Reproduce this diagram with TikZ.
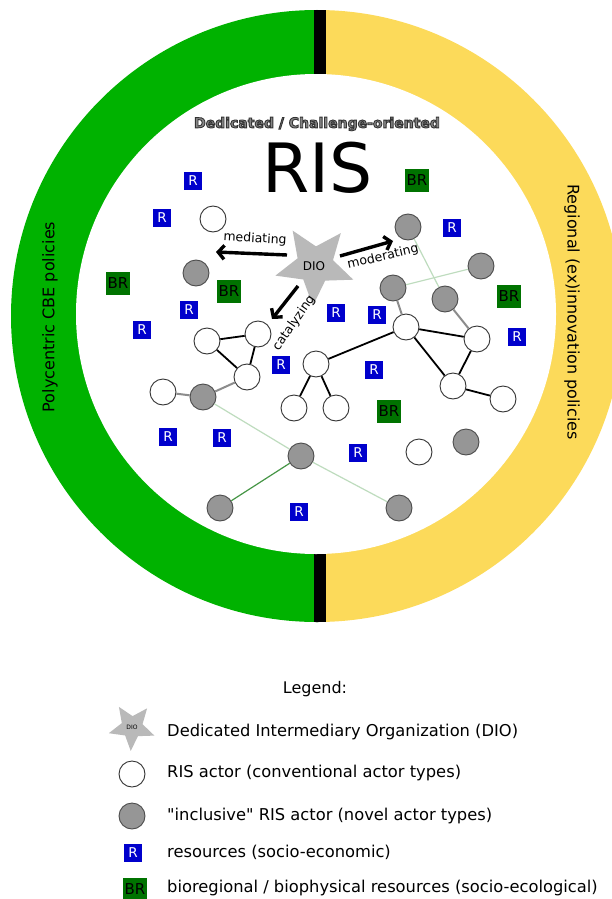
\documentclass[tikz,border=0pt]{standalone}
\usepackage{fontspec}
\setmainfont{DejaVu Sans}
\usetikzlibrary{shapes.geometric,arrows.meta}
\newcommand{\straightquote}{\XeTeXglyph\XeTeXcharglyph"22\relax}
\definecolor{ringgreen}{RGB}{0,178,0}
\definecolor{ringyellow}{RGB}{252,218,90}
\definecolor{rblue}{RGB}{0,0,204}
\definecolor{brgreen}{RGB}{0,115,0}
\definecolor{nodegray}{RGB}{150,150,150}
\definecolor{stargray}{RGB}{185,185,185}
\definecolor{lightgreen}{RGB}{190,220,190}
\definecolor{midgreen}{RGB}{70,150,70}
\definecolor{edgegray}{RGB}{140,140,140}
\definecolor{titlegray}{RGB}{135,135,135}
\begin{document}
\begin{tikzpicture}[x=1pt,y=-1pt,
  wnode/.style={circle,draw=black!80,fill=white,line width=0.9pt,minimum size=26pt,inner sep=0pt},
  gnode/.style={circle,draw=black!70,fill=nodegray,line width=0.9pt,minimum size=26pt,inner sep=0pt},
  rbox/.style={fill=rblue,text=white,minimum size=18pt,inner sep=0pt,font=\fontsize{13.5}{13.5}\selectfont},
  brbox/.style={fill=brgreen,text=black,minimum width=24pt,minimum height=23pt,inner sep=0pt,font=\fontsize{15}{15}\selectfont},
  tie/.style={line width=1.8pt,black},
  graytie/.style={line width=2pt,edgegray},
  weaktie/.style={line width=1.2pt,lightgreen},
  greentie/.style={line width=1.2pt,midgreen},
  role/.style={line width=3.4pt,-{Straight Barb[length=6pt,width=14pt]}},
  rolelabel/.style={font=\fontsize{12.5}{12.5}\selectfont,inner sep=0pt},
  ringlabel/.style={font=\fontsize{16}{16}\selectfont,inner sep=0pt},
  legendtext/.style={anchor=west,font=\fontsize{16.3}{19}\selectfont,inner sep=0pt},
  dio/.style={star,star points=5,star point ratio=2.2,fill=stargray,inner sep=0pt,shape border rotate=177}]
\useasboundingbox (0,0) rectangle (612,899);
\clip (0,0) rectangle (612,899);
% ring
\begin{scope}
  \clip (0,0) rectangle (319.5,899);
  \fill[ringgreen] (317,316) circle[radius=306pt];
\end{scope}
\begin{scope}
  \clip (319.5,0) rectangle (612,899);
  \fill[ringyellow] (317,316) circle[radius=306pt];
\end{scope}
\begin{scope}
  \clip (317,316) circle[radius=306pt];
  \fill[black] (313.5,0) rectangle (325.5,640);
\end{scope}
\fill[white] (316,314) circle[radius=240pt];
% ring labels
\node[ringlabel,rotate=90] (leftpol) at (50,317) {Polycentric CBE policies};
\node[ringlabel,rotate=-90] (rightpol) at (572,312) {Regional (ex)innovation policies};
% titles
\node[font=\bfseries\fontsize{14}{14}\selectfont,text=titlegray,inner sep=0pt] (sub) at (317,124)
  {\special{pdf:literal direct 2 Tr 0.9 w 0.2 0.2 0.2 RG}Dedicated / Challenge-oriented\special{pdf:literal direct 0 Tr}};
\node[font=\fontsize{68}{68}\selectfont,inner sep=0pt] (ris) at (317.5,168) {RIS};
% white actors
\node[wnode] (w1) at (213,219) {};
\node[wnode] (w2) at (207,341) {};
\node[wnode] (w3) at (258,334) {};
\node[wnode] (w4) at (247,377) {};
\node[wnode] (w5) at (163,392) {};
\node[wnode] (w6) at (316,364) {};
\node[wnode] (w7) at (294,408) {};
\node[wnode] (w8) at (336,408) {};
\node[wnode] (w9) at (406,327) {};
\node[wnode] (w10) at (477,339) {};
\node[wnode] (w11) at (453,386) {};
\node[wnode] (w12) at (503,399) {};
\node[wnode] (w13) at (419,452) {};
% gray actors
\node[gnode] (g1) at (196,273) {};
\node[gnode] (g2) at (408,227) {};
\node[gnode] (g3) at (481,266) {};
\node[gnode] (g4) at (393,288) {};
\node[gnode] (g5) at (445,299) {};
\node[gnode] (g6) at (203,397) {};
\node[gnode] (g7) at (301,456) {};
\node[gnode] (g8) at (220,508) {};
\node[gnode] (g9) at (399,508) {};
\node[gnode] (g10) at (466,442) {};
% ties
\draw[tie] (w2) -- (w3);
\draw[tie] (w2) -- (w4);
\draw[tie] (w3) -- (w4);
\draw[tie] (w6) -- (w7);
\draw[tie] (w6) -- (w8);
\draw[tie] (w6) -- (w9);
\draw[tie] (w9) -- (w10);
\draw[tie] (w9) -- (w11);
\draw[tie] (w10) -- (w11);
\draw[tie] (w11) -- (w12);
\draw[graytie] (w4) -- (g6);
\draw[graytie] (w5) -- (g6);
\draw[graytie] (g4) -- (w9);
\draw[graytie] (g5) -- (w10);
\draw[weaktie] (g4) -- (g3);
\draw[weaktie] (g2) -- (g5);
\draw[weaktie] (g6) -- (g7);
\draw[weaktie] (g7) -- (g9);
\draw[greentie] (g7) -- (g8);
% resources
\node[rbox] (r1) at (193,181) {R};
\node[rbox] (r2) at (162,218) {R};
\node[rbox] (r3) at (452,228) {R};
\node[rbox] (r4) at (189,310) {R};
\node[rbox] (r5) at (142,330) {R};
\node[rbox] (r6) at (336,313) {R};
\node[rbox] (r7) at (377,315) {R};
\node[rbox] (r8) at (281,365) {R};
\node[rbox] (r9) at (374,370) {R};
\node[rbox] (r10) at (517,337) {R};
\node[rbox] (r11) at (168,437) {R};
\node[rbox] (r12) at (222,438) {R};
\node[rbox] (r13) at (358,453) {R};
\node[rbox] (r14) at (299,512) {R};
\node[brbox] (br1) at (417,180) {BR};
\node[brbox] (br2) at (118,283) {BR};
\node[brbox] (br3) at (229,291) {BR};
\node[brbox] (br4) at (509,296) {BR};
\node[brbox] (br5) at (389,411) {BR};
% DIO
\node[dio,minimum size=82pt] (dio) at (315,265) {};
\node[font=\fontsize{12}{12}\selectfont,inner sep=0pt] (diotext) at (314,266) {DIO};
\coordinate (medS) at (287,255);
\coordinate (medE) at (216,252);
\coordinate (modS) at (340,256);
\coordinate (modE) at (393,241);
\coordinate (catS) at (298,286);
\coordinate (catE) at (272,319);
\draw[role] (medS) -- (medE);
\draw[role] (modS) -- (modE);
\draw[role] (catS) -- (catE);
\node[rolelabel,rotate=-3] (medl) at (255,239) {mediating};
\node[rolelabel,rotate=13] (modl) at (383,257) {moderating};
\node[rolelabel,rotate=55] (catl) at (294,323) {catalyzing};
% legend
\node[font=\fontsize{16}{19}\selectfont,inner sep=0pt] (legt) at (315,689) {Legend:};
\node[dio,minimum size=48pt] (ldio) at (132,727) {};
\node[font=\fontsize{6}{6}\selectfont,inner sep=0pt] (ldiotext) at (132,727) {DIO};
\node[wnode] (lw) at (132,774) {};
\node[gnode] (lg) at (132,816) {};
\node[rbox] (lr) at (133,853) {R};
\node[brbox] (lbr) at (135,889) {BR};
\node[legendtext] (t1) at (167,732) {Dedicated Intermediary Organization (DIO)};
\node[legendtext] (t2) at (167,773) {RIS actor (conventional actor types)};
\node[legendtext] (t3) at (167,816) {\straightquote inclusive\straightquote\ RIS actor (novel actor types)};
\node[legendtext] (t4) at (167,852) {resources (socio-economic)};
\node[legendtext] (t5) at (167,888) {bioregional / biophysical resources (socio-ecological)};
\end{tikzpicture}
\end{document}
